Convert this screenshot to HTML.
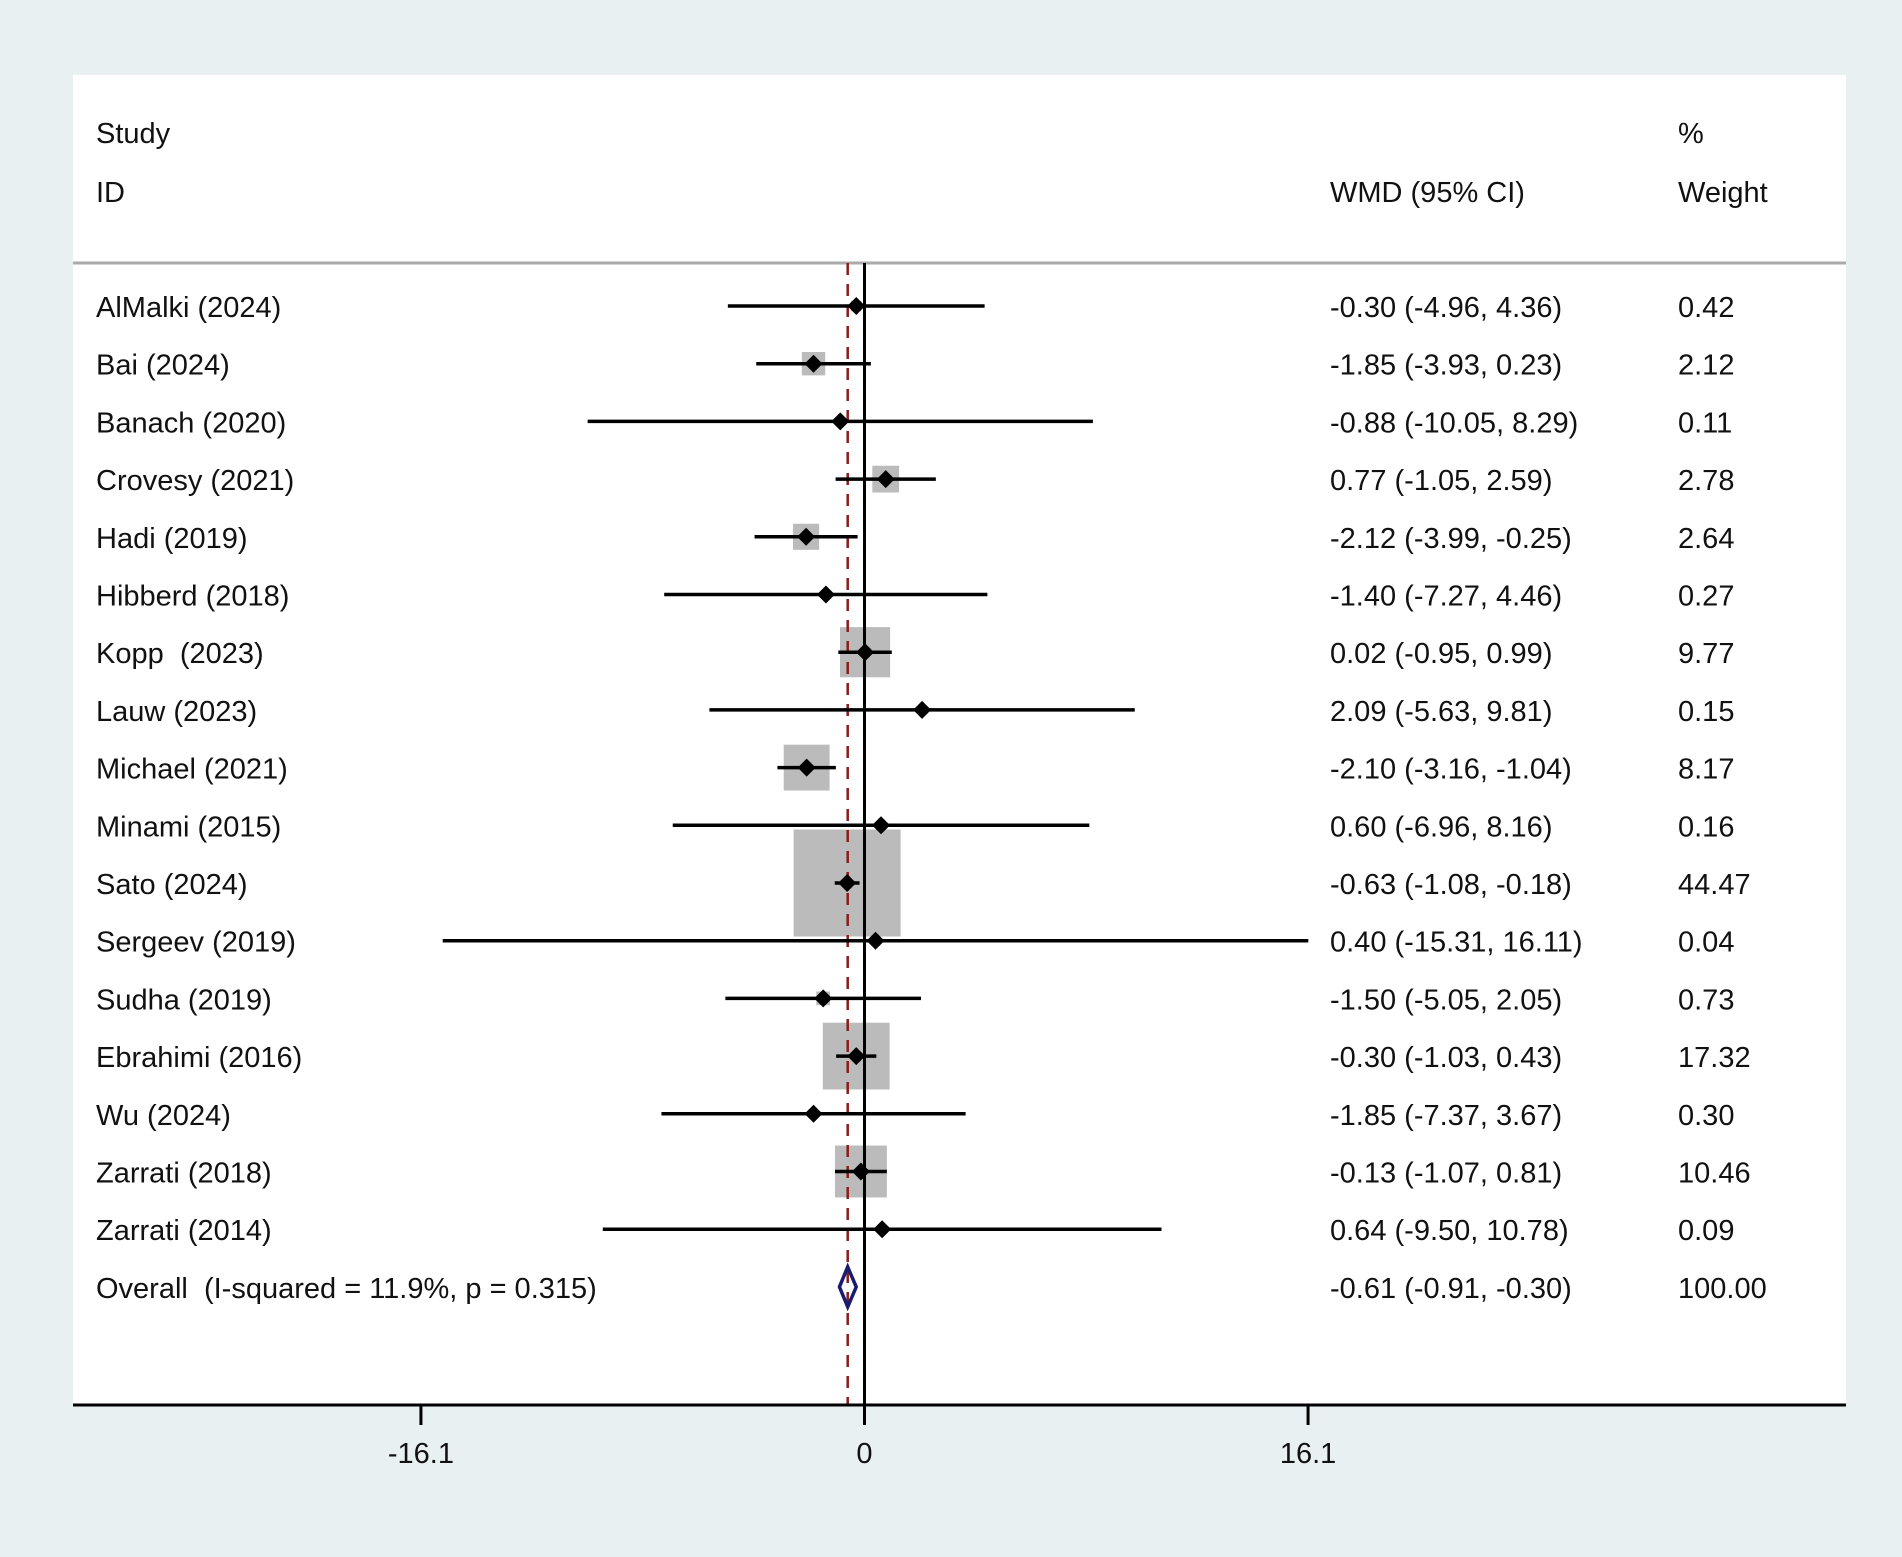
<!DOCTYPE html>
<html><head><meta charset="utf-8"><style>
html,body{margin:0;padding:0;background:#e8f0f2;}
svg{display:block;}
text{font-family:"Liberation Sans",Arial,sans-serif;font-size:29px;fill:#111;white-space:pre;}
</style></head><body>
<svg id="chart" width="1902" height="1557" viewBox="0 0 1902 1557">
<rect x="0" y="0" width="1902" height="1557" fill="#e8f0f2"/>
<rect x="73" y="75" width="1773" height="1330" fill="#ffffff"/>
<text x="96" y="143">Study</text>
<text x="96" y="202">ID</text>
<text x="1330" y="202">WMD (95% CI)</text>
<text x="1678" y="143">%</text>
<text x="1678" y="202">Weight</text>
<line x1="73" y1="263" x2="1846" y2="263" stroke="#aaa" stroke-width="3"/>
<g id="marks"></g>
<line x1="73" y1="1405" x2="1846" y2="1405" stroke="#000" stroke-width="3"/>
<g id="ticks"></g>
</svg>
<script>
const studies=["AlMalki (2024)","Bai (2024)","Banach (2020)","Crovesy (2021)","Hadi (2019)","Hibberd (2018)","Kopp  (2023)","Lauw (2023)","Michael (2021)","Minami (2015)","Sato (2024)","Sergeev (2019)","Sudha (2019)","Ebrahimi (2016)","Wu (2024)","Zarrati (2018)","Zarrati (2014)"];
const est=[-0.30,-1.85,-0.88,0.77,-2.12,-1.40,0.02,2.09,-2.10,0.60,-0.63,0.40,-1.50,-0.30,-1.85,-0.13,0.64];
const lo=[-4.96,-3.93,-10.05,-1.05,-3.99,-7.27,-0.95,-5.63,-3.16,-6.96,-1.08,-15.31,-5.05,-1.03,-7.37,-1.07,-9.50];
const hi=[4.36,0.23,8.29,2.59,-0.25,4.46,0.99,9.81,-1.04,8.16,-0.18,16.11,2.05,0.43,3.67,0.81,10.78];
const weights=[0.42,2.12,0.11,2.78,2.64,0.27,9.77,0.15,8.17,0.16,44.47,0.04,0.73,17.32,0.30,10.46,0.09];
const overallEst=-0.61, overallLo=-0.91, overallHi=-0.30;
const overallLabel="Overall  (I-squared = 11.9%, p = 0.315)";
const tickValues=[-16.1,0,16.1];
const tickLabels=["-16.1","0","16.1"];

const NS="http://www.w3.org/2000/svg";
const X0=864.5, PX=27.55;
function xs(v){return X0+v*PX;}
function ys(i){return 306+i*57.7;}
function mk(tag,attrs,parent){const e=document.createElementNS(NS,tag);for(const k in attrs)e.setAttribute(k,attrs[k]);parent.appendChild(e);return e;}
const g=document.getElementById('marks');
function fmt(v){return v.toFixed(2);}

studies.forEach((s,i)=>{
  const y=ys(i);
  const side=107*Math.sqrt(weights[i]/44.47);
  const b=mk('rect',{x:xs(est[i])-side/2,y:y-side/2,width:side,height:side,fill:'#bbbbbb'},g);
  
  
});
let nl=mk('line',{x1:xs(0),y1:263,x2:xs(0),y2:1405,stroke:'#000','stroke-width':3},g);


let dl=mk('line',{x1:xs(overallEst),y1:263,x2:xs(overallEst),y2:1405,stroke:'#8b1a1a','stroke-width':2.5,'stroke-dasharray':'12,9'},g);



studies.forEach((s,i)=>{
  const y=ys(i);
  const l=mk('line',{x1:xs(lo[i]),y1:y,x2:xs(hi[i]),y2:y,stroke:'#000','stroke-width':3.5},g);
  
  
  const cx=xs(est[i]);
  const d=mk('polygon',{points:`${cx},${y-9} ${cx+9},${y} ${cx},${y+9} ${cx-9},${y}`,fill:'#000'},g);
  
  
  const t1=mk('text',{x:96,y:y+11},g);t1.textContent=s;
  
  
  const t2=mk('text',{x:1330,y:y+11},g);t2.textContent=`${fmt(est[i])} (${fmt(lo[i])}, ${fmt(hi[i])})`;
  
  
  const t3=mk('text',{x:1678,y:y+11},g);t3.textContent=fmt(weights[i]);
  
  
});
const oy=ys(17);
const od=mk('polygon',{points:`${xs(overallLo)},${oy} ${xs(overallEst)},${oy-20} ${xs(overallHi)},${oy} ${xs(overallEst)},${oy+20}`,fill:'none',stroke:'#1a1a6e','stroke-width':3.5},g);


const o1=mk('text',{x:96,y:oy+11},g);o1.textContent=overallLabel;


const o2=mk('text',{x:1330,y:oy+11},g);o2.textContent=`${fmt(overallEst)} (${fmt(overallLo)}, ${fmt(overallHi)})`;


const o3=mk('text',{x:1678,y:oy+11},g);o3.textContent="100.00";



const tg=document.getElementById('ticks');
tickValues.forEach((v,i)=>{
  const tl=mk('line',{x1:xs(v),y1:1405,x2:xs(v),y2:1425,stroke:'#000','stroke-width':3},tg);
  
  
  const tt=mk('text',{x:xs(v),y:1463,'text-anchor':'middle'},tg);tt.textContent=tickLabels[i];
  
  
});
</script>
</body></html>
